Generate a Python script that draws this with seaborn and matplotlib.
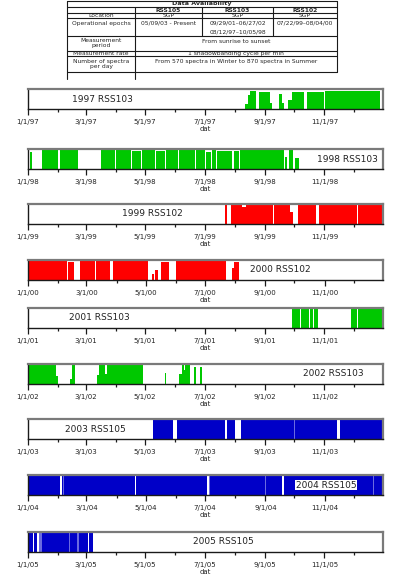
"""
Data availability of the shadowband spectrometers, one strip per year
"""
import datetime as dt
import matplotlib
matplotlib.use('Agg')
import matplotlib.pyplot as plt
import matplotlib.dates as mdates
from matplotlib.ticker import FuncFormatter
import seaborn as sns

sns.set_theme(style='ticks')
plt.rcParams['font.family'] = ['DejaVu Sans']

# ---- table text ----
TABLE_TITLE = 'Data Availability'
INSTRUMENT_COLS = ['RSS105', 'RSS103', 'RSS102']
ROW_LABELS = ['Location', 'Operational epochs', 'Measurement\nperiod',
              'Measurement rate', 'Number of spectra\nper day']
LOCATIONS = ['SGP', 'SGP', 'SGP']
EPOCHS = ['05/09/03 - Present', '09/29/01\u201306/27/02\n08/12/97\u201310/05/98',
          '07/22/99\u201308/04/00']
PERIOD = 'From sunrise to sunset'
RATE = '1 shadowbanding cycle per min'
SPECTRA = 'From 570 spectra in Winter to 870 spectra in Summer'

# ---- strips: (first day, last day, relative daily coverage) ----
YEARS = [1997, 1998, 1999, 2000, 2001, 2002, 2003, 2004, 2005]
INSTRUMENTS = ['RSS103', 'RSS103', 'RSS102', 'RSS102', 'RSS103',
               'RSS103', 'RSS105', 'RSS105', 'RSS105']

seg_1997 = [('08/12', '08/14', 0.26), ('08/15', '08/16', 0.7), ('08/17', '08/22', 0.88),
            ('08/26', '09/05', 0.85), ('09/06', '09/07', 0.3), ('09/15', '09/17', 0.75),
            ('09/18', '09/19', 0.28), ('09/25', '09/28', 0.45), ('09/29', '10/10', 0.85),
            ('10/14', '10/30', 0.86), ('11/02', '12/27', 0.88)]
seg_1998 = [('01/03', '01/04', 0.85), ('01/15', '01/31', 0.96), ('02/03', '02/20', 0.96),
            ('03/17', '03/30', 0.94), ('04/01', '04/16', 0.96), ('04/18', '04/26', 0.9),
            ('04/28', '05/10', 0.96), ('05/12', '05/20', 0.92), ('05/22', '06/03', 0.96),
            ('06/05', '06/20', 0.93), ('06/22', '06/30', 0.96), ('07/02', '07/07', 0.85),
            ('07/09', '07/12', 0.96), ('07/14', '07/28', 0.9), ('07/31', '08/04', 0.88),
            ('08/06', '09/19', 0.96), ('09/22', '09/23', 0.6), ('09/26', '09/29', 0.96),
            ('10/02', '10/05', 0.55)]
seg_1999 = [('07/22', '07/23', 0.96), ('07/28', '08/07', 0.96), ('08/08', '08/12', 0.85),
            ('08/13', '09/08', 0.96), ('09/10', '09/26', 0.96), ('09/27', '09/29', 0.6),
            ('10/05', '10/22', 0.96), ('10/26', '12/03', 0.96), ('12/05', '12/30', 0.96)]
seg_2000 = [('01/01', '02/09', 0.96), ('02/11', '02/16', 0.9), ('02/23', '03/09', 0.96),
            ('03/11', '03/24', 0.96), ('03/28', '05/02', 0.96), ('05/08', '05/09', 0.3),
            ('05/11', '05/13', 0.5), ('05/17', '05/24', 0.9), ('06/01', '07/22', 0.96),
            ('07/29', '07/30', 0.6), ('07/31', '08/04', 0.9)]
seg_2001 = [('09/29', '10/06', 0.96), ('10/08', '10/15', 0.96), ('10/17', '10/19', 0.96),
            ('10/21', '10/24', 0.96), ('11/28', '12/03', 0.96), ('12/05', '12/30', 0.96)]
seg_2002 = [('01/01', '01/29', 0.96), ('01/30', '01/31', 0.4), ('02/13', '02/14', 0.25),
            ('02/15', '02/17', 0.96), ('03/13', '03/14', 0.45), ('03/15', '03/20', 0.96),
            ('03/21', '03/22', 0.5), ('03/23', '04/28', 0.96), ('05/21', '05/22', 0.55),
            ('06/05', '06/07', 0.5), ('06/08', '06/09', 0.96), ('06/10', '06/10', 0.7),
            ('06/11', '06/15', 0.96), ('06/20', '06/21', 0.85), ('06/26', '06/27', 0.85)]
seg_2003 = [('05/09', '05/29', 0.97), ('06/03', '07/21', 0.97), ('07/24', '07/31', 0.97),
            ('08/07', '11/13', 0.97), ('11/17', '12/31', 0.97)]
seg_2004 = [('01/01', '02/02', 0.97), ('02/05', '04/19', 0.97), ('04/21', '07/02', 0.97),
            ('07/05', '09/17', 0.97), ('09/20', '12/31', 0.97)]
seg_2005 = [('01/01', '01/05', 0.97), ('01/07', '01/09', 0.97), ('01/12', '03/01', 0.97),
            ('03/03', '03/03', 0.97), ('03/05', '03/08', 0.97)]
SEGMENTS = [seg_1997, seg_1998, seg_1999, seg_2000, seg_2001,
            seg_2002, seg_2003, seg_2004, seg_2005]

# partial days inside the blue strips (drawn lighter)
partial_2003 = ['10/01']
partial_2004 = ['02/06', '07/05', '09/01', '12/21']
partial_2005 = ['01/12', '01/13', '01/14', '02/12', '02/20', '02/21']
PARTIAL = {2003: partial_2003, 2004: partial_2004, 2005: partial_2005}

COLORS = {'RSS103': '#00c800', 'RSS102': '#ff0000', 'RSS105': '#0000c8'}
LIGHT_BLUE = '#6a6ae0'

# layout (pixels) of the strips and label positions (axes fraction)
STRIP_TOP = [89, 149, 204, 260, 308, 364, 419, 475, 532]
STRIP_H = 20
LABEL_X = [0.21, 0.90, 0.35, 0.71, 0.20, 0.86, 0.19, 0.84, 0.55]

W, H = 402, 574
fig = plt.figure(figsize=(W / 100, H / 100), dpi=100)


def day(year, mmdd):
    m, d = mmdd.split('/')
    return mdates.date2num(dt.date(year, int(m), int(d)))


def fmt_date(x, pos=None):
    d = mdates.num2date(x)
    return f'{d.month}/{d.day}/{d.year % 100:02d}'


# ---- the table, drawn in pixel coordinates ----
tab = fig.add_axes([0, 0, 1, 1])
tab.set_xlim(0, W)
tab.set_ylim(H, 0)
tab.axis('off')
cols = [67, 135, 202, 273, 337]
rows = [0.5, 7.3, 12.7, 18.3, 35.5, 50.5, 56.3, 72.3]
lw = 0.8
for y in rows:
    tab.plot([cols[0], cols[-1]], [y, y], color='k', lw=lw)
tab.plot([cols[0], cols[0]], [rows[0], 79], color='k', lw=lw)
tab.plot([cols[-1], cols[-1]], [rows[0], rows[-1]], color='k', lw=lw)
tab.plot([cols[1], cols[1]], [rows[1], 79], color='k', lw=lw)
for x in cols[2:4]:
    tab.plot([x, x], [rows[1], rows[4]], color='k', lw=lw)

fs = 4.3
tab.text((cols[0] + cols[-1]) / 2, 4.0, TABLE_TITLE, ha='center', va='center',
         fontsize=fs + 0.3, fontweight='bold')
for i, name in enumerate(INSTRUMENT_COLS):
    tab.text((cols[i + 1] + cols[i + 2]) / 2, 10.0, name, ha='center', va='center',
             fontsize=fs, fontweight='bold')
cx0 = (cols[0] + cols[1]) / 2
label_y = [15.5, 23.3, 42.8, 53.4, 63.8]
for lab, y in zip(ROW_LABELS, label_y):
    tab.text(cx0, y, lab, ha='center', va='center', fontsize=fs, linespacing=1.1)
for i, loc in enumerate(LOCATIONS):
    tab.text((cols[i + 1] + cols[i + 2]) / 2, 15.5, loc, ha='center', va='center', fontsize=fs)
for i, ep in enumerate(EPOCHS):
    for k, line in enumerate(ep.split('\n')):
        tab.text((cols[i + 1] + cols[i + 2]) / 2, 23.3 + 8.4 * k, line,
                 ha='center', va='center', fontsize=fs)
cmid = (cols[1] + cols[-1]) / 2
tab.text(cmid, 41.7, PERIOD, ha='center', va='center', fontsize=fs)
tab.text(cmid, 53.4, RATE, ha='center', va='center', fontsize=fs)
tab.text(cmid, 61.7, SPECTRA, ha='center', va='center', fontsize=fs)

# ---- one strip per year ----
for i, year in enumerate(YEARS):
    top = STRIP_TOP[i]
    ax = fig.add_axes([28 / W, 1 - (top + STRIP_H) / H, 355 / W, STRIP_H / H])
    color = COLORS[INSTRUMENTS[i]]
    starts = [day(year, s) for s, e, h in SEGMENTS[i]]
    widths = [day(year, e) + 1 - day(year, s) for s, e, h in SEGMENTS[i]]
    heights = [h for s, e, h in SEGMENTS[i]]
    ax.bar(starts, heights, width=widths, align='edge', color=color, linewidth=0)
    if year in PARTIAL:
        px = [day(year, s) for s in PARTIAL[year]]
        ax.bar(px, [0.97] * len(px), width=1, align='edge', color=LIGHT_BLUE, linewidth=0)

    # axis ends on Dec 31, so the next 1/1 gets no label
    ax.set_xlim(day(year, '01/01'), day(year, '12/31'))
    ax.set_ylim(0, 1)
    ax.xaxis.set_major_locator(mdates.MonthLocator(bymonth=[1, 3, 5, 7, 9, 11]))
    ax.xaxis.set_minor_locator(mdates.MonthLocator(bymonth=[2, 4, 6, 8, 10, 12]))
    ax.xaxis.set_major_formatter(FuncFormatter(fmt_date))
    ax.tick_params(axis='x', which='major', length=4, width=0.9, color='k',
                   labelsize=5, pad=3, labelcolor='#222222', bottom=True)
    ax.tick_params(axis='x', which='minor', length=2.5, width=0.9, color='k', bottom=True)
    ax.set_yticks([])
    ax.set_xlabel('dat', fontsize=5, labelpad=1, color='#222222')
    for side in ['left', 'bottom']:
        ax.spines[side].set_color('k')
        ax.spines[side].set_linewidth(1.0)
    for side in ['top', 'right']:
        ax.spines[side].set_color('#7a7a7a')
        ax.spines[side].set_linewidth(1.6)

    label = f'{year} {INSTRUMENTS[i]}'
    box = dict(facecolor='white', edgecolor='none', pad=0.6) if year == 2004 else None
    ax.text(LABEL_X[i], 0.5, label, transform=ax.transAxes, ha='center', va='center',
            fontsize=6.5, color='#222222', bbox=box)

fig.savefig('out.png', dpi=100)
